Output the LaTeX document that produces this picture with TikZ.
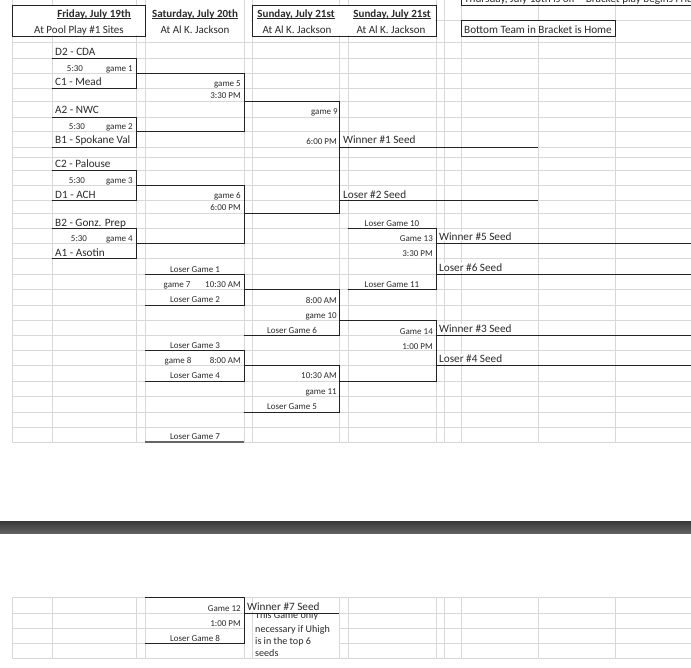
\documentclass[tikz,border=0pt]{standalone}
\usepackage{fontspec}
\setmainfont{Carlito}
\definecolor{gridc}{HTML}{D8D8D8}
\definecolor{inkc}{HTML}{222222}
\definecolor{txtc}{HTML}{2A2A2A}
\tikzset{
  x=1pt,y=-1pt,
  gridline/.style={draw=gridc,line width=0.8pt},
  bracket/.style={draw=inkc,line width=1pt,line join=miter},
  softline/.style={draw=gray!80!black,line width=1.4pt},
  bigl/.style={font=\fontsize{11.2}{12}\selectfont,text=txtc,inner sep=0pt,anchor=base west},
  bigfill/.style={bigl,fill=white,inner ysep=0.6pt},
  smr/.style={font=\fontsize{9}{10}\selectfont,text=txtc,inner sep=0pt,anchor=base east},
  smc/.style={font=\fontsize{9}{10}\selectfont,text=txtc,inner sep=0pt,anchor=base},
  hdr/.style={font=\fontsize{11}{12}\selectfont,text=txtc,inner sep=0pt,anchor=base},
  note/.style={font=\fontsize{10.1}{12}\selectfont,text=txtc,inner sep=0pt,anchor=base west},
}
\newcommand{\ulb}[1]{\underline{\smash{\textbf{#1}}}}
\begin{document}
\begin{tikzpicture}
\useasboundingbox (0,0) rectangle (691,667);
\clip (0,0) rectangle (691,667);
% spreadsheet grid, upper part
\foreach \yy in {20,42,58,73,88,101,117,131,147,157,170,185,200,213,228,243,258,274,289,305,320,335,350,365,381,396,412,427,442}
  \draw[gridline] (12,\yy) -- (691,\yy);
\foreach \xx in {12,52,136,145,244,252,339,348,436,444,461,538,615}
  \draw[gridline] (\xx,0) -- (\xx,442);
% grey band
\shade[top color=black!78,bottom color=black!62] (0,521) rectangle (691,533);
% lower grid
\foreach \yy in {597,613,628,643,658}
  \draw[gridline] (12,\yy) -- (691,\yy);
\foreach \xx in {12,52,136,145,244,252,339,348,436,444,461,538,615}
  \draw[gridline] (\xx,597) -- (\xx,658);
\fill[white] (245,614) rectangle (338.5,657.5);
\draw[gridline] (252,614) -- (252,658);
% header boxes
\fill[white] (13,6) rectangle (145,35);
\fill[white] (253,6) rectangle (435,35);
\fill[white] (146,6) rectangle (251,35);
\draw[gridline] (244,0) -- (244,36);
\fill[white] (462,21) rectangle (614,35);
\draw[bracket] (12,5) rectangle (145.5,36);
\draw[bracket] (252,5) rectangle (436,36);
\draw[bracket] (461,20) rectangle (615,36);
\draw[bracket] (461,-5) -- (461,5.5) -- (700,5.5);
\node[bigl] (thu) at (464,2) {Thursday, July 18th is off -- Bracket play begins Friday};
\node[hdr] (h1) at (94,17) {\ulb{Friday, July 19th}};
\node[hdr] (h2) at (195,17) {\ulb{Saturday, July 20th}};
\node[hdr] (h3) at (296,17) {\ulb{Sunday, July 21st}};
\node[hdr] (h4) at (392,17) {\ulb{Sunday, July 21st}};
\node[hdr] (s1) at (79,33) {At Pool Play \#1 Sites};
\node[hdr] (s2) at (195,33) {At Al K. Jackson};
\node[hdr] (s3) at (297,33) {At Al K. Jackson};
\node[hdr] (s4) at (391,33) {At Al K. Jackson};
\node[bigl] (home) at (464,33) {Bottom Team in Bracket is Home};
% team labels
\node[bigl] (t1) at (55,55) {D2 - CDA};
\node[bigl] (t2) at (55,85) {C1 - Mead};
\node[bigl] (t3) at (55,113) {A2 - NWC};
\node[bigl] (t4) at (55,143) {B1 - Spokane Val};
\node[bigl] (t5) at (55,167) {C2 - Palouse};
\node[bigl] (t6) at (55,198) {D1 - ACH};
\node[bigl] (t7) at (55,226) {B2 - Gonz. Prep};
\node[bigl] (t8) at (55,256) {A1 - Asotin};
\node[smc] (a1) at (75,71) {5:30};
\node[smc] (a2) at (77,129) {5:30};
\node[smc] (a3) at (77,183) {5:30};
\node[smc] (a4) at (79,241) {5:30};
\node[smr] (g1) at (133,71) {game 1};
\node[smr] (g2) at (133,129) {game 2};
\node[smr] (g3) at (133,183) {game 3};
\node[smr] (g4) at (133,241) {game 4};
\node[smr] (g5) at (241,86) {game 5};
\node[smr] (g5t) at (241,98) {3:30 PM};
\node[smr] (g6) at (241,198) {game 6};
\node[smr] (g6t) at (241,210) {6:00 PM};
\node[smr] (g9) at (338,114) {game 9};
\node[smr] (g9t) at (337,144) {6:00 PM};
% seed labels
\node[bigfill] (w1) at (343,143) {Winner \#1 Seed};
\node[bigfill] (l2) at (343,198) {Loser \#2 Seed};
\node[bigfill] (w5) at (439,240) {Winner \#5 Seed};
\node[bigfill] (l6) at (439,271) {Loser \#6 Seed};
\node[bigfill] (w3) at (439,332) {Winner \#3 Seed};
\node[bigfill] (l4) at (439,362) {Loser \#4 Seed};
\node[bigfill] (w7) at (247,610) {Winner \#7 Seed};
% lower-bracket labels
\node[smc] (lg10) at (392,226) {Loser Game 10};
\node[smr] (g13) at (433,241) {Game 13};
\node[smr] (g13t) at (433,256) {3:30 PM};
\node[smc] (lg11) at (392,287) {Loser Game 11};
\node[smc] (lg1) at (195,272) {Loser Game 1};
\node[smc] (g7) at (177,287) {game 7};
\node[smr] (g7t) at (241,287) {10:30 AM};
\node[smc] (lg2) at (195,302) {Loser Game 2};
\node[smr] (g10t) at (337,303) {8:00 AM};
\node[smr] (g10) at (337,318) {game 10};
\node[smc] (lg6) at (292,333) {Loser Game 6};
\node[smc] (lg3) at (195,348) {Loser Game 3};
\node[smc] (g8) at (178,363) {game 8};
\node[smr] (g8t) at (241,363) {8:00 AM};
\node[smc] (lg4) at (195,378) {Loser Game 4};
\node[smr] (g11t) at (337,378) {10:30 AM};
\node[smr] (g11) at (337,394) {game 11};
\node[smc] (lg5) at (292,409) {Loser Game 5};
\node[smc] (lg7) at (195,439) {Loser Game 7};
\node[smr] (g14) at (433,334) {Game 14};
\node[smr] (g14t) at (433,349) {1:00 PM};
\node[smr] (g12) at (241,611) {Game 12};
\node[smr] (g12t) at (241,626) {1:00 PM};
\node[smc] (lg8) at (195,641) {Loser Game 8};
\begin{scope}
\clip (245,613) rectangle (339,660);
\node[note] (n1) at (255,618) {This Game only};
\node[note] (n2) at (255,632) {necessary if Uhigh};
\node[note] (n3) at (255,644) {is in the top 6};
\node[note] (n4) at (255,656) {seeds};
\end{scope}
% bracket lines
\draw[bracket] (52,58) -- (136,58) -- (136,88) -- (52,88);
\draw[bracket] (52,117) -- (136,117) -- (136,147) -- (52,147);
\draw[bracket] (52,170) -- (136,170) -- (136,200) -- (52,200);
\draw[bracket] (52,228) -- (136,228) -- (136,258.5) -- (52,258.5);
\draw[bracket] (136,73) -- (244,73) -- (244,131) -- (136,131);
\draw[bracket] (136,185) -- (244,185) -- (244,243) -- (136,243);
\draw[bracket] (244,101) -- (339,101) -- (339,213) -- (244,213);
\draw[bracket] (339,147) -- (538,147);
\draw[bracket] (339,200.5) -- (538,200.5);
\draw[bracket] (348,228) -- (436,228) -- (436,289.5) -- (348,289.5);
\draw[bracket] (436,243.5) -- (691,243.5);
\draw[bracket] (436,274) -- (691,274);
\draw[bracket] (145,274) -- (244,274) -- (244,305) -- (145,305);
\draw[bracket] (244,289.5) -- (339,289.5) -- (339,335) -- (244,335);
\draw[bracket] (339,320) -- (436,320) -- (436,381) -- (339,381);
\draw[bracket] (145,350) -- (244,350) -- (244,381) -- (145,381);
\draw[bracket] (244,365) -- (339,365) -- (339,412) -- (244,412);
\draw[bracket] (436,335) -- (691,335);
\draw[bracket] (436,365.5) -- (691,365.5);
\draw[softline] (145,442) -- (244,442);
\draw[bracket] (145,597) -- (244,597) -- (244,643) -- (145,643);
\draw[bracket] (244,613) -- (339,613);
\end{tikzpicture}
\end{document}
